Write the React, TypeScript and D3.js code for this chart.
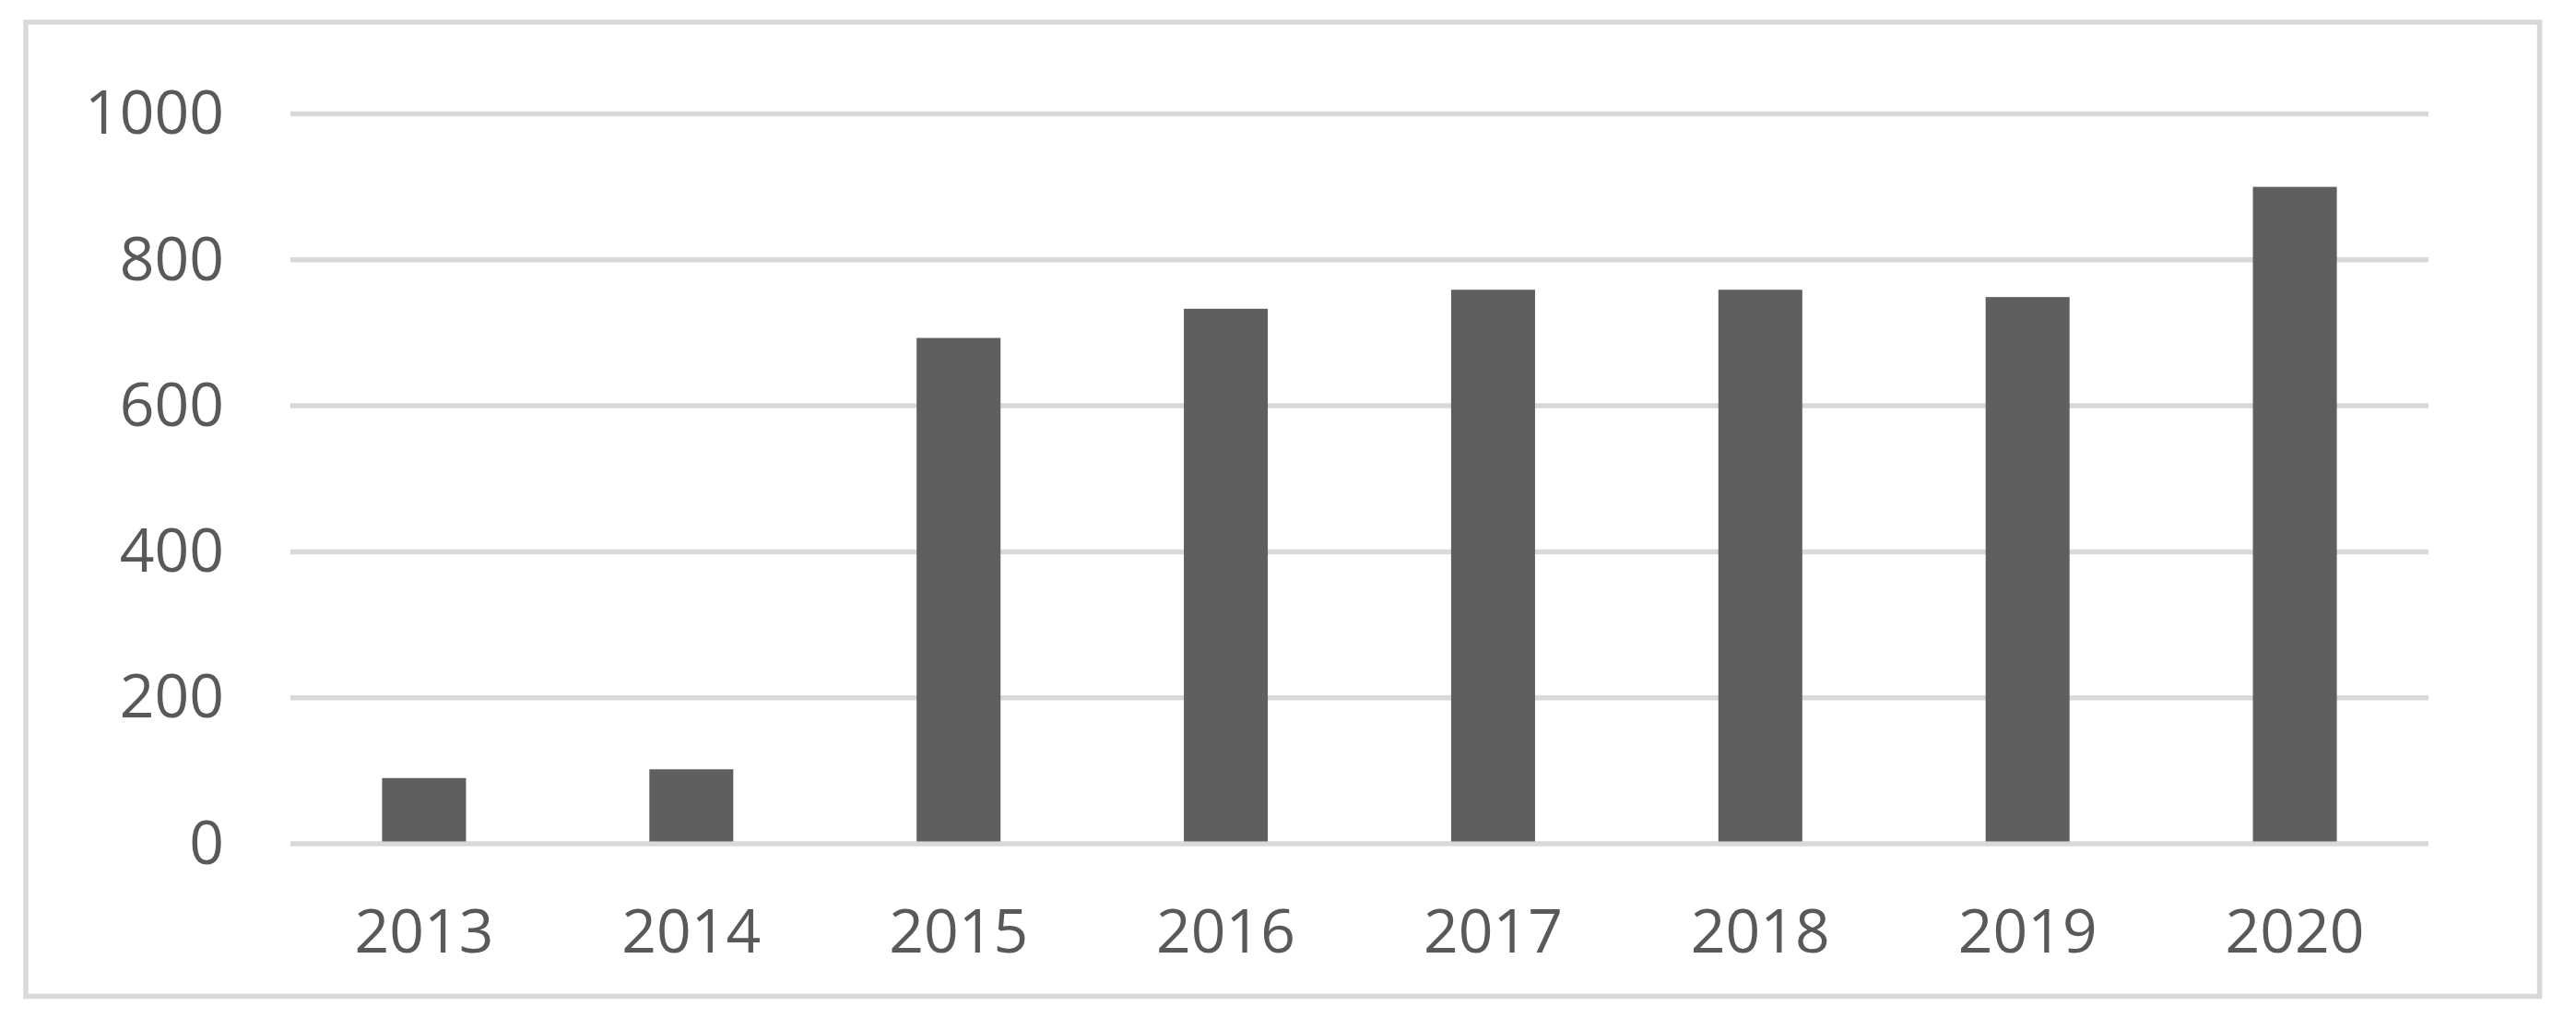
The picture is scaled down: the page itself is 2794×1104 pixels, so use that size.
import React, { useRef, useEffect } from "react";
import * as d3 from "d3";

const years: string[] = ["2013", "2014", "2015", "2016", "2017", "2018", "2019", "2020"];
const values: number[] = [90, 102, 693, 733, 759, 759, 749, 900];
const yTicks: number[] = [0, 200, 400, 600, 800, 1000];

const WIDTH = 2794;
const HEIGHT = 1104;

const App = () => {
  const svgRef = useRef<SVGSVGElement>(null);

  useEffect(() => {
    const svg = d3.select(svgRef.current);
    svg.selectAll("*").remove();

    const plot = { left: 315, right: 2634, top: 123.5, bottom: 915 };
    const textColor = "#595959";
    const gridColor = "#d9d9d9";
    const font = "'Open Sans', 'Noto Sans', sans-serif";

    const x = d3
      .scaleBand<string>()
      .domain(years)
      .range([plot.left, plot.right])
      .paddingInner(0.686)
      .paddingOuter(0.343);

    const y = d3.scaleLinear().domain([0, 1000]).range([plot.bottom, plot.top]);

    // outer chart border
    svg
      .append("rect")
      .attr("x", 28)
      .attr("y", 24)
      .attr("width", 2754.5 - 28)
      .attr("height", 1080.5 - 24)
      .attr("fill", "#fff")
      .attr("stroke", gridColor)
      .attr("stroke-width", 5.5);

    // gridlines
    svg
      .append("g")
      .selectAll("line")
      .data(yTicks)
      .join("line")
      .attr("x1", plot.left)
      .attr("x2", plot.right)
      .attr("y1", (d) => y(d))
      .attr("y2", (d) => y(d))
      .attr("stroke", gridColor)
      .attr("stroke-width", 5.5);

    // y labels
    svg
      .append("g")
      .selectAll("text")
      .data(yTicks)
      .join("text")
      .attr("x", 243)
      .attr("y", (d) => y(d) - 2)
      .attr("dy", "0.36em")
      .attr("text-anchor", "end")
      .attr("fill", textColor)
      .style("font-family", font)
      .style("font-size", "66px")
      .text((d) => d);

    // bars
    svg
      .append("g")
      .selectAll("rect")
      .data(values)
      .join("rect")
      .attr("x", (d, i) => x(years[i])!)
      .attr("width", x.bandwidth())
      .attr("y", (d) => y(d))
      .attr("height", (d) => y(0) - y(d) - 2.5)
      .attr("fill", "#5f5f5f");

    // x labels
    svg
      .append("g")
      .selectAll("text")
      .data(years)
      .join("text")
      .attr("x", (d) => x(d)! + x.bandwidth() / 2)
      .attr("y", 1009)
      .attr("dy", "0.36em")
      .attr("text-anchor", "middle")
      .attr("fill", textColor)
      .style("font-family", font)
      .style("font-size", "66px")
      .text((d) => d);
  }, []);

  return (
    <div style={{ position: "absolute", left: 0, top: 0 }}>
      <svg ref={svgRef} width={WIDTH} height={HEIGHT} style={{ display: "block", background: "#fff" }} />
    </div>
  );
};

export default App;
